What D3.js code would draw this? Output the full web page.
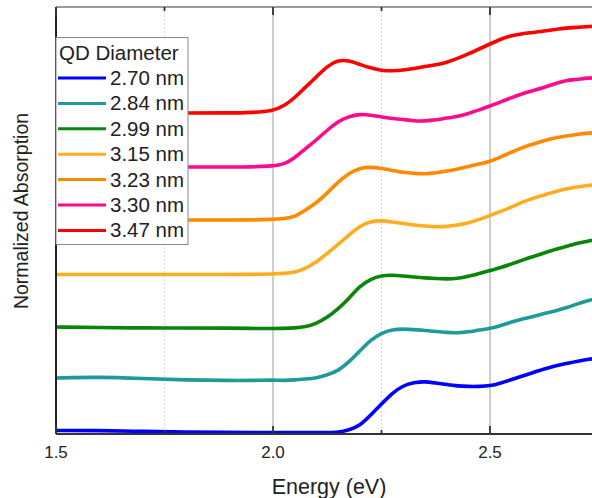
<!DOCTYPE html>
<html>
<head>
<meta charset="utf-8">
<script src="https://cdn.jsdelivr.net/npm/d3@7/dist/d3.min.js"></script>
<style>
  body { margin: 0; background: #fff; }
  text { font-family: "Liberation Sans", Arial, sans-serif; fill: #222; }
</style>
</head>
<body>
<svg id="chart" width="592" height="498"></svg>
<script>
// energy grid (eV)
var energy = [1.5, 1.6, 1.7, 1.8, 1.9, 1.95,
  2.0, 2.025, 2.05, 2.075, 2.1, 2.125, 2.15, 2.175, 2.2, 2.225,
  2.25, 2.275, 2.3, 2.325, 2.35, 2.375, 2.4, 2.425, 2.45, 2.475,
  2.5, 2.525, 2.55, 2.575, 2.6, 2.625, 2.65, 2.675, 2.7, 2.725, 2.75];

var diameters = ['2.70 nm', '2.84 nm', '2.99 nm', '3.15 nm', '3.23 nm', '3.30 nm', '3.47 nm'];
var colors = ['#0000ff', '#1f9a9a', '#0a850a', '#ffad1f', '#ff8a00', '#ff0a8a', '#ff0000'];

// offset normalized absorption spectra
var abs270 = [0.07, 0.07, 0.05, 0.04, 0.03, 0.03,
  0.03, 0.03, 0.03, 0.03, 0.03, 0.03, 0.03, 0.08, 0.16, 0.38, 0.60, 0.82, 0.97, 1.03, 1.05,
  1.02, 0.99, 0.96, 0.95, 0.95, 0.96, 1.02, 1.09, 1.16, 1.23, 1.30, 1.36, 1.41, 1.45, 1.49, 1.52];
var abs284 = [1.12, 1.14, 1.11, 1.08, 1.07, 1.07,
  1.08, 1.07, 1.08, 1.10, 1.12, 1.18, 1.26, 1.44, 1.66, 1.88, 2.02, 2.09, 2.10, 2.09, 2.07,
  2.05, 2.03, 2.02, 2.04, 2.08, 2.11, 2.17, 2.24, 2.30, 2.35, 2.41, 2.46, 2.52, 2.60, 2.67, 2.71];
var abs299 = [2.14, 2.13, 2.12, 2.12, 2.12, 2.11,
  2.11, 2.11, 2.12, 2.14, 2.21, 2.33, 2.50, 2.71, 2.96, 3.10, 3.17, 3.18, 3.16, 3.14, 3.12,
  3.11, 3.10, 3.11, 3.15, 3.21, 3.27, 3.33, 3.40, 3.48, 3.55, 3.62, 3.69, 3.75, 3.81, 3.86, 3.89];
var abs315 = [3.19, 3.19, 3.19, 3.19, 3.19, 3.19,
  3.20, 3.21, 3.23, 3.31, 3.44, 3.61, 3.79, 3.98, 4.16, 4.25, 4.27, 4.24, 4.21, 4.18, 4.16,
  4.14, 4.15, 4.18, 4.22, 4.29, 4.37, 4.45, 4.54, 4.64, 4.72, 4.78, 4.85, 4.90, 4.94, 4.97, 4.99];
var abs323 = [4.28, 4.28, 4.28, 4.28, 4.28, 4.28,
  4.29, 4.31, 4.34, 4.48, 4.62, 4.82, 5.04, 5.22, 5.32, 5.34, 5.31, 5.27, 5.23, 5.21, 5.20,
  5.22, 5.26, 5.30, 5.35, 5.40, 5.45, 5.54, 5.64, 5.73, 5.80, 5.87, 5.92, 5.96, 5.99, 6.02, 6.03];
var abs330 = [5.34, 5.34, 5.34, 5.34, 5.34, 5.34,
  5.36, 5.39, 5.52, 5.71, 5.88, 6.08, 6.25, 6.35, 6.40, 6.38, 6.34, 6.31, 6.29, 6.26, 6.26,
  6.28, 6.32, 6.35, 6.41, 6.48, 6.56, 6.64, 6.73, 6.81, 6.87, 6.93, 7.01, 7.07, 7.09, 7.12, 7.13];
var abs347 = [6.42, 6.42, 6.42, 6.42, 6.42, 6.43,
  6.46, 6.56, 6.72, 6.94, 7.14, 7.36, 7.48, 7.47, 7.39, 7.32, 7.27, 7.26, 7.28, 7.31, 7.35,
  7.38, 7.43, 7.51, 7.60, 7.70, 7.80, 7.90, 7.97, 8.01, 8.03, 8.06, 8.09, 8.12, 8.13, 8.15, 8.16];

var spectra = [abs270, abs284, abs299, abs315, abs323, abs330, abs347];

var xMajor = [1.5, 2.0, 2.5];
var xMinor = [1.75, 2.25, 2.75];

var svg = d3.select('#chart');
var plotLeft = 56, plotTop = 7, plotBottom = 434;

var x = d3.scaleLinear().domain([1.5, 2.75]).range([plotLeft, 598.5]);
var y = d3.scaleLinear().domain([0, 8.54]).range([plotBottom, plotTop]);

svg.append('rect').attr('width', 592).attr('height', 498).attr('fill', '#fff');

svg.append('clipPath').attr('id', 'plotclip')
  .append('rect').attr('x', plotLeft).attr('y', plotTop)
  .attr('width', 600).attr('height', plotBottom - plotTop);

// grid
svg.append('g').selectAll('line')
  .data(xMinor)
  .enter().append('line')
  .attr('x1', function (d) { return x(d); })
  .attr('x2', function (d) { return x(d); })
  .attr('y1', plotTop).attr('y2', plotBottom)
  .attr('stroke', '#d8d8d8')
  .attr('stroke-dasharray', '2,2')
  .attr('stroke-width', 1);

svg.append('g').selectAll('line')
  .data(xMajor.slice(1))
  .enter().append('line')
  .attr('x1', function (d) { return x(d); })
  .attr('x2', function (d) { return x(d); })
  .attr('y1', plotTop).attr('y2', plotBottom)
  .attr('stroke', '#b4b4b4')
  .attr('stroke-width', 1.3);

// spectra
var line = d3.line()
  .x(function (d, i) { return x(energy[i]); })
  .y(function (d) { return y(d); })
  .curve(d3.curveBasis);

svg.append('g')
  .attr('clip-path', 'url(#plotclip)')
  .selectAll('path')
  .data(spectra)
  .enter().append('path')
  .attr('d', line)
  .attr('fill', 'none')
  .attr('stroke', function (d, i) { return colors[i]; })
  .attr('stroke-width', 3.6)
  .attr('stroke-linejoin', 'round');

// frame
svg.append('line').attr('x1', plotLeft).attr('x2', 592).attr('y1', plotTop).attr('y2', plotTop)
  .attr('stroke', '#777').attr('stroke-width', 1.6);
svg.append('line').attr('x1', plotLeft).attr('x2', 592).attr('y1', plotBottom).attr('y2', plotBottom)
  .attr('stroke', '#333').attr('stroke-width', 1.8);
svg.append('line').attr('x1', plotLeft).attr('x2', plotLeft).attr('y1', plotTop).attr('y2', plotBottom)
  .attr('stroke', '#222').attr('stroke-width', 2);

// ticks (inward, bottom and top)
var ticks = xMajor.map(function (d) { return { v: d, len: 8 }; })
  .concat(xMinor.map(function (d) { return { v: d, len: 4 }; }));

svg.append('g').selectAll('line')
  .data(ticks)
  .enter().append('line')
  .attr('x1', function (d) { return x(d.v); })
  .attr('x2', function (d) { return x(d.v); })
  .attr('y1', plotBottom)
  .attr('y2', function (d) { return plotBottom - d.len; })
  .attr('stroke', '#333').attr('stroke-width', 1.8);

svg.append('g').selectAll('line')
  .data(ticks)
  .enter().append('line')
  .attr('x1', function (d) { return x(d.v); })
  .attr('x2', function (d) { return x(d.v); })
  .attr('y1', plotTop)
  .attr('y2', function (d) { return plotTop + d.len; })
  .attr('stroke', '#333').attr('stroke-width', 1.8);

svg.append('g').selectAll('text')
  .data(xMajor)
  .enter().append('text')
  .attr('x', function (d) { return x(d); })
  .attr('y', 458)
  .attr('text-anchor', 'middle')
  .style('font-size', '17px')
  .text(function (d) { return d.toFixed(1); });

// axis titles
svg.append('text')
  .attr('x', 329).attr('y', 494)
  .attr('text-anchor', 'middle')
  .style('font-size', '21.5px')
  .text('Energy (eV)');

svg.append('text')
  .attr('transform', 'translate(28,211) rotate(-90)')
  .attr('text-anchor', 'middle')
  .style('font-size', '19.5px')
  .text('Normalized Absorption');

// legend
var legend = svg.append('g');
legend.append('rect')
  .attr('x', plotLeft).attr('y', 37.5).attr('width', 132).attr('height', 207)
  .attr('fill', '#fff').attr('stroke', '#888').attr('stroke-width', 1);

legend.append('text')
  .attr('x', 59).attr('y', 60)
  .style('font-size', '20.5px')
  .text('QD Diameter');

var rows = legend.selectAll('g.row')
  .data(diameters)
  .enter().append('g')
  .attr('class', 'row')
  .attr('transform', function (d, i) { return 'translate(0,' + (78 + i * 25.4) + ')'; });

rows.append('line')
  .attr('x1', 58).attr('x2', 106).attr('y1', 0).attr('y2', 0)
  .attr('stroke', function (d, i) { return colors[i]; })
  .attr('stroke-width', 3);

rows.append('text')
  .attr('x', 110).attr('y', 7)
  .style('font-size', '20.5px')
  .text(function (d) { return d; });
</script>
</body>
</html>
